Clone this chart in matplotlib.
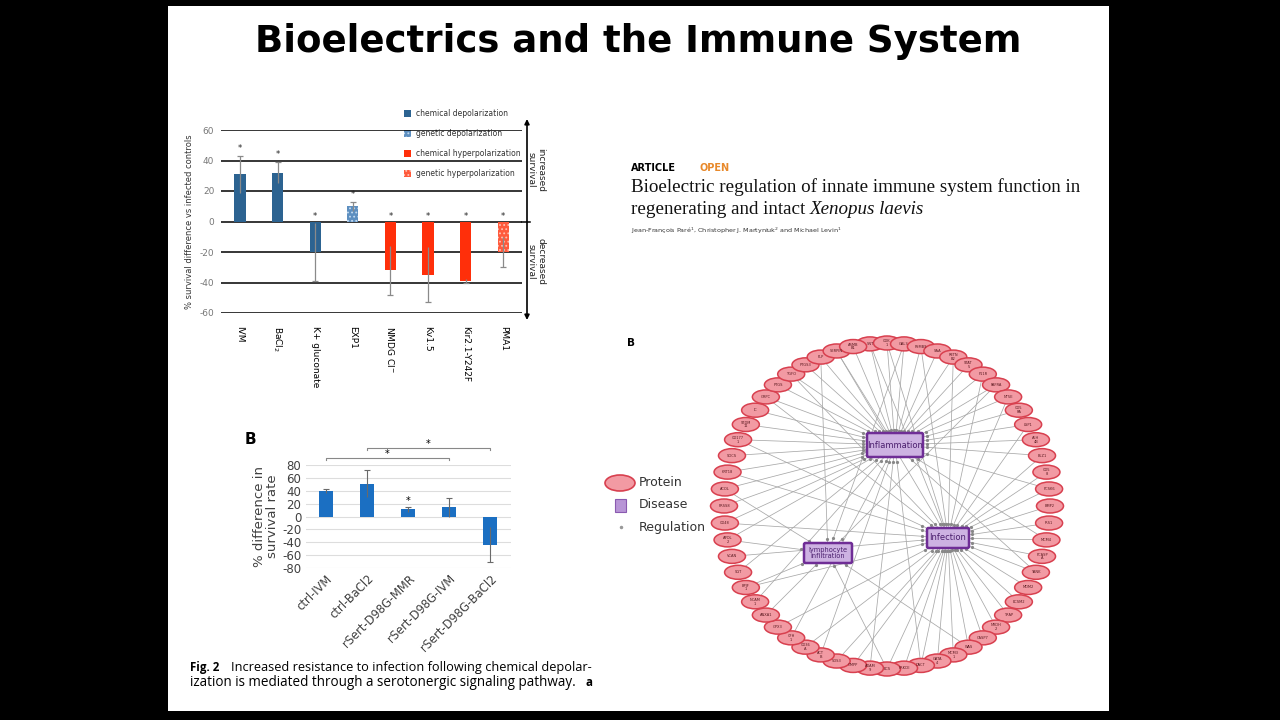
import numpy as np
import matplotlib
matplotlib.use("Agg")
import matplotlib.pyplot as plt
from matplotlib.patches import Rectangle, Ellipse, FancyBboxPatch

# ---------------- data ----------------
cats1 = ['IVM', 'BaCl$_2$', 'K+ gluconate', 'EXP1', 'NMDG Cl$^{-}$', 'Kv1.5', 'Kir2.1-Y242F', 'PMA1']
vals1 = [31, 32, -20, 10, -32, -35, -39, -20]
err1 = [12, 7, 19, 3, 16, 18, 1.5, 10]
groups1 = ['chemical depolarization', 'chemical depolarization', 'chemical depolarization',
           'genetic depolarization', 'chemical hyperpolarization', 'chemical hyperpolarization',
           'chemical hyperpolarization', 'genetic hyperpolarization']
legend1 = ['chemical depolarization', 'genetic depolarization',
           'chemical hyperpolarization', 'genetic hyperpolarization']
yticks1 = [-60, -40, -20, 0, 20, 40, 60]

cats2 = ['ctrl-IVM', 'ctrl-BaCl2', 'rSert-D98G-MMR', 'rSert-D98G-IVM', 'rSert-D98G-BaCl2']
vals2 = [40, 51, 11, 14, -44]
err2 = [3, 21, 4, 15, 27]
star2 = [2]
sig_pairs2 = [(0, 3), (1, 4)]
yticks2 = [-80, -60, -40, -20, 0, 20, 40, 60, 80]

proteins = ['SNT', 'CDK\n1', 'GAL3', 'PSMB9', 'SAA', 'RETN\nB2', 'STAT\n5', 'F11R', 'PAFRA',
            'NT5E', 'CD5\nRA', 'LSP1', 'ALH\n4B', 'BLZ1', 'CD5\n8', 'PCSK6', 'BMP2', 'IRS1',
            'MCM4', 'PCASP\nA', 'TANK', 'MDM2', 'ECSM2', 'TRAP', 'NRDH\n2', 'CASP7', 'WAS',
            'MCM3\n1', 'GATA\n4', 'DACT', 'PRKCE', 'ECS', 'ADAM\n9', 'GMPP', 'SDS3', 'ACT\nB',
            'CD36\nA', 'CFH\n1', 'GPX3', 'ANXA1', 'NCAM\n1', 'BPIF\n1', 'SGT', 'VCAN', 'APOL\n2',
            'CD48', 'PRSS8', 'ACOL', 'KRT18', 'SOCS', 'CD177\n1', 'STDM\n11', 'IC', 'GRPC',
            'PTGS', 'TGFO', 'PTGS3', 'PLP', 'SERPIN', 'ASMB\nB1']
diseases = ['Inflammation', 'Infection', 'lymphocyte\ninfiltration']
inflam_links = [0, 1, 2, 3, 4, 5, 6, 7, 8, 9, 10, 11, 12, 13, 15, 18, 20, 29, 32, 35, 37, 40,
                42, 44, 45, 46, 47, 48, 49, 50, 51, 52, 53, 54, 55, 56, 57, 58, 59]
infect_links = [0, 1, 3, 5, 7, 9, 11, 13, 14, 15, 16, 17, 18, 19, 20, 21, 22, 23, 24, 25, 26,
                27, 28, 29, 30, 31, 33, 34, 36, 38, 41, 43, 45, 48, 50, 53, 55, 58]
lymph_links = [2, 8, 26, 31, 39, 41, 44, 47, 57]

# ---------------- figure ----------------
W, H = 1280, 720
fig = plt.figure(figsize=(12.8, 7.2), dpi=100, facecolor='black')


def px_axes(x0, y0, x1, y1, **kw):
    return fig.add_axes([x0 / W, 1 - y1 / H, (x1 - x0) / W, (y1 - y0) / H], **kw)


ax0 = px_axes(0, 0, W, H)
ax0.set_xlim(0, W)
ax0.set_ylim(H, 0)
ax0.axis('off')
ax0.add_patch(Rectangle((168, 6), 941, 705, facecolor='white', edgecolor='none'))

renderer = fig.canvas.get_renderer()


def fit(t, width):
    w = t.get_window_extent(renderer).width
    t.set_fontsize(t.get_fontsize() * width / w)
    return t


# Title
t = ax0.text(638, 41, 'Bioelectrics and the Immune System', ha='center', va='center',
             fontsize=30, fontweight='bold', family='DejaVu Sans', color='black')
fit(t, 767)

# ---------------- chart 1 ----------------
blue1 = '#2c6391'
red1 = '#ff2f0a'
styles1 = {
    'chemical depolarization': dict(facecolor=blue1, edgecolor=blue1, hatch=None),
    'genetic depolarization': dict(facecolor='#5d8fc0', edgecolor='#c4daf0', hatch='....'),
    'chemical hyperpolarization': dict(facecolor=red1, edgecolor=red1, hatch=None),
    'genetic hyperpolarization': dict(facecolor='#ff5a3c', edgecolor='#ffc0b0', hatch='....'),
}
plt.rcParams['hatch.linewidth'] = 0.8

ax1 = px_axes(221.2, 130, 522, 313, facecolor='none')
x1 = np.arange(len(cats1))
for xi, v, g in zip(x1, vals1, groups1):
    st = styles1[g]
    ax1.bar(xi, v, width=0.3, facecolor=st['facecolor'], edgecolor=st['edgecolor'],
            hatch=st['hatch'], linewidth=0, zorder=2)
v1 = np.array(vals1, float)
e1 = np.array(err1, float)
ax1.errorbar(x1, v1, yerr=e1, fmt='none', ecolor='#8a8a8a', elinewidth=0.9, capsize=0, zorder=3)
outer1 = v1 + np.sign(v1) * e1
ax1.scatter(x1, outer1, marker='_', s=25, color='#8a8a8a', linewidths=0.9, zorder=3)
for xi, v, o in zip(x1, v1, outer1):
    ys = o + 2 if v > 0 else 0.5
    ax1.text(xi, ys, '*', ha='center', va='bottom', fontsize=6, color='#222222')
ax1.set_xlim(-0.5, 7.5)
ax1.set_ylim(-60, 60)
ax1.set_yticks(yticks1)
ax1.set_yticklabels([str(v) for v in yticks1], fontsize=6.5, color='#777777')
ax1.set_xticks(x1)
ax1.set_xticklabels(cats1, rotation=-90, fontsize=6.5, va='top', ha='center')
ax1.tick_params(length=0, pad=5)
ax1.tick_params(axis='x', pad=9)
ax1.grid(axis='y', color='black', linewidth=1.1)
ax1.set_axisbelow(True)
for s in ax1.spines.values():
    s.set_visible(False)
ax1.set_ylabel('% survival difference vs infected controls', fontsize=6, color='#333333',
               labelpad=4)

# arrow on right
ax0.annotate('', xy=(527, 119), xytext=(527, 320),
             arrowprops=dict(arrowstyle='<|-|>', color='black', lw=1.2,
                             mutation_scale=7, shrinkA=0, shrinkB=0))
ax0.plot([522, 530], [222, 222], color='black', lw=1.1)
ax0.text(536, 170, 'increased\nsurvival', rotation=-90, ha='center', va='center',
         fontsize=6.5, linespacing=1.1, color='#222222')
ax0.text(536, 262, 'decreased\nsurvival', rotation=-90, ha='center', va='center',
         fontsize=6.5, linespacing=1.1, color='#222222')

# legend chart 1
for i, name in enumerate(legend1):
    yy = 113 + 20 * i
    st = styles1[name]
    ax0.add_patch(Rectangle((404, yy - 3.5), 7, 7, facecolor=st['facecolor'],
                            edgecolor=st['edgecolor'], hatch=st['hatch'], linewidth=0))
    ax0.text(416, yy, name, fontsize=5.5, va='center', ha='left', color='#333333')

# ---------------- chart 2 ----------------
blue2 = '#1b6fc2'
ax0.text(245, 440, 'B', fontsize=11, fontweight='bold', va='center', ha='left')
ax2 = px_axes(305.5, 465, 510.5, 568, facecolor='none')
x2 = np.arange(len(cats2))
v2 = np.array(vals2, float)
e2 = np.array(err2, float)
ax2.bar(x2, v2, width=0.32, color=blue2, zorder=2)
ax2.errorbar(x2, v2, yerr=e2, fmt='none', ecolor='#6a6a6a', elinewidth=0.8, capsize=0, zorder=3)
outer2 = v2 + np.sign(v2) * e2
ax2.scatter(x2, outer2, marker='_', s=22, color='#6a6a6a', linewidths=0.8, zorder=3)
for i in star2:
    ax2.text(x2[i], outer2[i] + 1, '*', ha='center', va='bottom', fontsize=7)
for k, (a, b) in enumerate(sig_pairs2):
    yb = 91 + 15 * k
    ax2.plot([x2[a], x2[a], x2[b], x2[b]], [yb - 3, yb, yb, yb - 3], color='#888888',
             lw=0.8, clip_on=False)
    ax2.text((x2[a] + x2[b]) / 2, yb - 1, '*', ha='center', va='bottom', fontsize=7,
             clip_on=False)
ax2.set_xlim(-0.5, 4.5)
ax2.set_ylim(-80, 80)
ax2.set_yticks(yticks2)
ax2.set_yticklabels([str(v) for v in yticks2], fontsize=8.5, color='#404040')
ax2.set_xticks(x2)
ax2.set_xticklabels(cats2, rotation=45, ha='right', rotation_mode='anchor', fontsize=8.3,
                    color='#404040')
ax2.tick_params(length=0, pad=3)
ax2.grid(axis='y', color='#dddddd', linewidth=0.8)
ax2.set_axisbelow(True)
for s in ax2.spines.values():
    s.set_visible(False)
ax2.set_ylabel('% difference in\nsurvival rate', fontsize=9.5, color='#404040', labelpad=2,
               linespacing=1.0)

# caption
ax0.text(190, 668, 'Fig. 2', fontsize=8.3, fontweight='bold', va='center', ha='left',
         family='Open Sans')
c2 = ax0.text(231, 668, 'Increased resistance to infection following chemical depolar-',
              fontsize=8, va='center', ha='left', family='Open Sans')
fit(c2, 361)
c3 = ax0.text(190, 683, 'ization is mediated through a serotonergic signaling pathway.',
              fontsize=8, va='center', ha='left', family='Open Sans')
fit(c3, 390)
ax0.text(592, 683, 'a', fontsize=8.3, fontweight='bold', va='center', ha='right',
         family='Open Sans')

# ---------------- article header ----------------
ax0.text(631, 168, 'ARTICLE', fontsize=7, fontweight='bold', va='center', ha='left')
ax0.text(699, 168, 'OPEN', fontsize=7, fontweight='bold', va='center', ha='left',
         color='#e8892b')
a1 = ax0.text(631, 187, 'Bioelectric regulation of innate immune system function in',
              fontsize=12, va='center', ha='left', family='Liberation Serif', color='#111111')
fit(a1, 449)
fs = a1.get_fontsize()
a2 = ax0.text(631, 209, 'regenerating and intact ', fontsize=fs, va='center', ha='left',
              family='Liberation Serif', color='#111111')
bb = a2.get_window_extent(renderer)
ax0.text(631 + bb.width, 209, 'Xenopus laevis', fontsize=fs, va='center', ha='left',
         family='Liberation Serif', style='italic', color='#111111')
ax0.text(631, 231, 'Jean-François Paré$^{1}$, Christopher J. Martyniuk$^{2}$ and Michael Levin$^{1}$',
         fontsize=4.6, va='center', ha='left', color='#333333')

# ---------------- network ----------------
ax0.text(627, 343, 'B', fontsize=7.5, fontweight='bold', va='center', ha='left')
ax3 = px_axes(700, 322, 1078, 690, facecolor='none')
ax3.set_xlim(700, 1078)
ax3.set_ylim(690, 322)
ax3.axis('off')

cx, cy, R = 887, 506, 163
n = len(proteins)
ang = np.deg2rad(96 - np.arange(n) * 360.0 / n)
px = cx + R * np.cos(ang)
py = cy - R * np.sin(ang)

dpos = {0: (895, 445, 28, 12), 1: (948, 538, 21, 10), 2: (828, 553, 24, 10)}
dfont = {0: 6.0, 1: 6.0, 2: 4.8}
links = [(i, 0) for i in inflam_links] + [(i, 1) for i in infect_links] + \
        [(i, 2) for i in lymph_links]
for i, d in links:
    bx, by, hw, hh = dpos[d]
    dx, dy = px[i] - bx, py[i] - by
    tt = min(hw / max(abs(dx), 1e-6), hh / max(abs(dy), 1e-6))
    ex, ey = bx + dx * tt * 1.04, by + dy * tt * 1.04
    ax3.plot([px[i], ex], [py[i], ey], color='#a8a8a8', lw=0.55, zorder=1)
    ax3.plot(ex + dx * 0.02, ey + dy * 0.02, marker='o', ms=1.3, color='#888888', zorder=2)

for i in range(n):
    ax3.add_patch(Ellipse((px[i], py[i]), 27, 14, facecolor='#f29aa3', edgecolor='#d8404f',
                          lw=1.1, zorder=3))
    ax3.text(px[i], py[i], proteins[i], fontsize=2.6, ha='center', va='center', zorder=4,
             color='#5a1a20', linespacing=0.9)

for d, (bx, by, hw, hh) in dpos.items():
    ax3.add_patch(FancyBboxPatch((bx - hw, by - hh), 2 * hw, 2 * hh,
                                 boxstyle='round,pad=0,rounding_size=1.5',
                                 facecolor='#cdb2e2', edgecolor='#6f2d96', lw=1.8, zorder=5))
    ax3.text(bx, by, diseases[d], fontsize=dfont[d], ha='center', va='center',
             color='#4b1f6e', zorder=6, linespacing=0.9)

# network legend
ax0.add_patch(Ellipse((620, 483), 30, 16, facecolor='#f29aa3', edgecolor='#d8404f', lw=1.2))
ax0.add_patch(Rectangle((615, 499), 11, 13, facecolor='#b895d6', edgecolor='#8a5ab0', lw=0.8))
ax0.plot(621, 527, marker='o', ms=1.5, color='#999999')
ax0.text(639, 483, 'Protein', fontsize=9, va='center', ha='left', color='#333333')
ax0.text(639, 505, 'Disease', fontsize=9, va='center', ha='left', color='#333333')
ax0.text(639, 527, 'Regulation', fontsize=9, va='center', ha='left', color='#333333')

fig.savefig('out.png', dpi=100, facecolor='black')
